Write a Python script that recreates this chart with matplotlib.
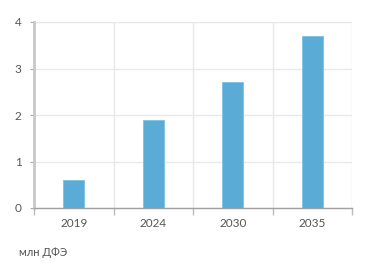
import numpy as np
import matplotlib.pyplot as plt

years = ["2019", "2024", "2030", "2035"]
values = [0.6, 1.9, 2.7, 3.7]
unit_label = "млн ДФЭ"

plt.rcParams['font.family'] = ['Lato', 'DejaVu Sans']

fig = plt.figure(figsize=(3.71, 2.75), dpi=100)
ax = fig.add_axes([34/371, 1 - 208/275, (352-34)/371, (208-22)/275])

x = np.arange(len(years))
ax.bar(x, values, width=0.27, color="#5aabd6", edgecolor="#7cc0e4", linewidth=0.6, zorder=3)

ax.set_xlim(-0.5, len(years) - 0.5)
ax.set_ylim(0, 4)
ax.set_yticks([0, 1, 2, 3, 4])
ax.set_xticks(x)
ax.set_xticklabels(years)
ax.set_xticks(np.arange(len(years) + 1) - 0.5, minor=True)

ax.grid(axis="y", color="#e8e8e8", linewidth=1, zorder=0)
ax.grid(axis="x", which="minor", color="#e8e8e8", linewidth=1, zorder=0)

ax.tick_params(axis="x", which="major", length=0, pad=7, labelsize=8.5, labelcolor="#555555")
ax.tick_params(axis="x", which="minor", length=5, color="#bbbbbb", width=1)
ax.tick_params(axis="y", length=3, color="#aaaaaa", pad=6, labelsize=8.5, labelcolor="#555555")

for s in ["top", "right"]:
    ax.spines[s].set_visible(False)
ax.spines["left"].set_color("#c8c8c8")
ax.spines["left"].set_linewidth(2)
ax.spines["bottom"].set_color("#a0a0a0")
ax.spines["bottom"].set_linewidth(1)

fig.text(19/371, 1 - 252/275, unit_label, fontsize=8, color="#555555", va="center", ha="left")

fig.savefig("out.png", dpi=100)
